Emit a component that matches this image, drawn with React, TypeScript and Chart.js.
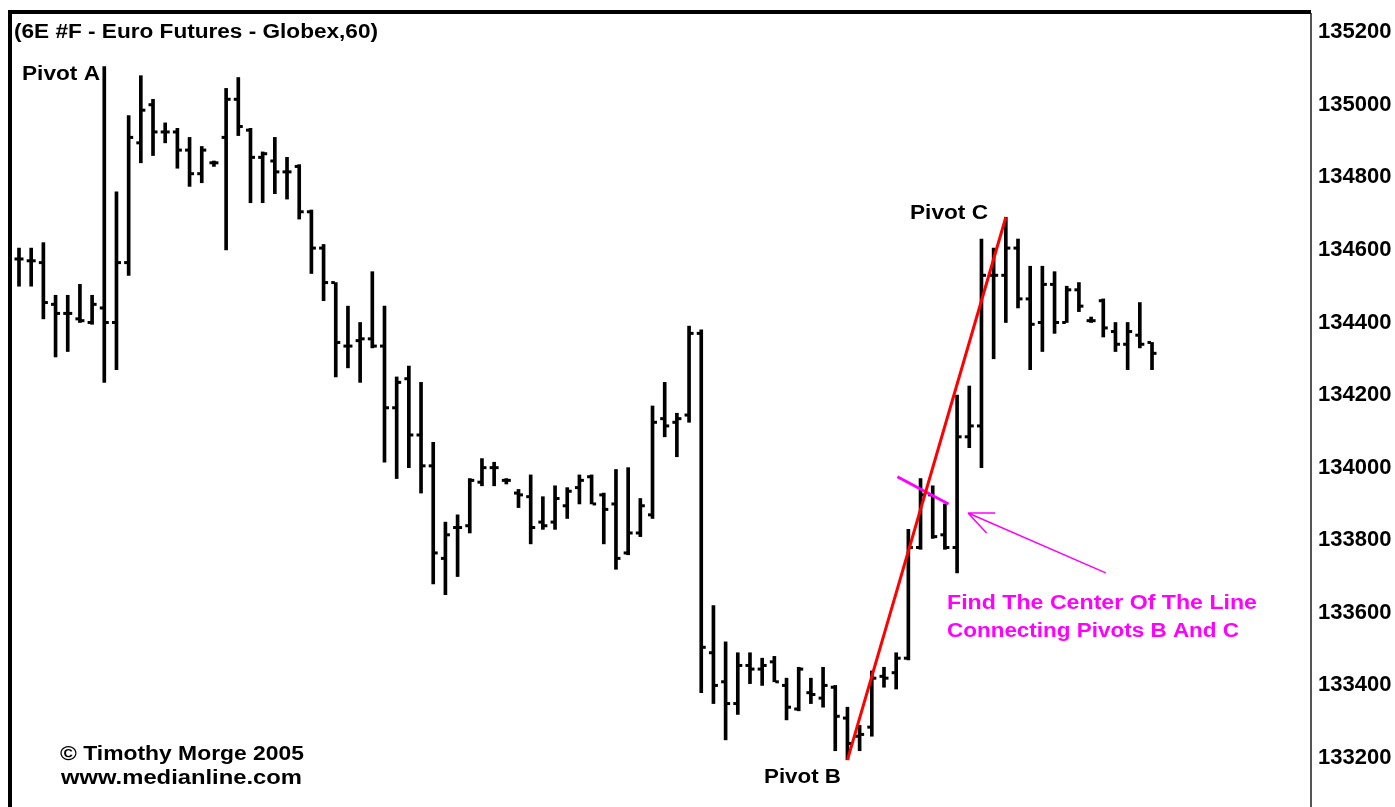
import React, { useEffect, useRef } from "react";
import { Chart, registerables } from "chart.js";

Chart.register(...registerables);

// ---- Data (hourly bars, 6E Euro futures) ----
const OPEN = [
  134575, 134570, 134565, 134450, 134425, 134410, 134400, 134440, 134400, 134565,
  134895, 135000, 134925, 134925, 134875, 134810, 134840, 134910, 135015, 134930,
  134855, 134845, 134815, 134830, 134705, 134605, 134510, 134335, 134350, 134355,
  134335, 134165, 134245, 134090, 134005, 133750, 133835, 133840, 133960, 134000,
  133965, 133930, 133920, 133850, 133850, 133895, 133945, 133975, 133925, 133900,
  133765, 133820, 133870, 134135, 134125, 134145, 134370, 133490, 133410, 133350,
  133455, 133445, 133465, 133400, 133335, 133380, 133365, 133395, 133310, 133260,
  133285, 133425, 133435, 133475, 133780, 133925, 133815, 133780, 134085, 134115,
  134530, 134530, 134605, 134465, 134400, 134505, 134400, 134490, 134405, 134460,
  134375, 134340, 134365, 134345,
];
const HIGH = [
  134605, 134605, 134620, 134475, 134475, 134505, 134475, 135105, 134760, 134970,
  135080, 135015, 134950, 134935, 134910, 134885, 134845, 135045, 135075, 134935,
  134870, 134910, 134855, 134835, 134710, 134615, 134510, 134445, 134400, 134540,
  134445, 134250, 134280, 134235, 134070, 133850, 133870, 133970, 134025, 134015,
  133970, 133940, 133980, 133920, 133950, 133945, 133980, 133980, 133930, 133995,
  134000, 133915, 134170, 134235, 134150, 134390, 134380, 133620, 133520, 133490,
  133490, 133475, 133480, 133420, 133450, 133420, 133450, 133400, 133340, 133290,
  133440, 133450, 133490, 133830, 133970, 133950, 133900, 134200, 134225, 134630,
  134605, 134690, 134630, 134555, 134555, 134540, 134500, 134510, 134415, 134465,
  134400, 134400, 134455, 134345,
];
const LOW = [
  134500, 134500, 134410, 134305, 134320, 134400, 134395, 134235, 134270, 134530,
  134840, 134860, 134895, 134825, 134775, 134785, 134830, 134600, 134915, 134730,
  134730, 134755, 134740, 134685, 134535, 134460, 134250, 134275, 134235, 134330,
  134015, 133970, 134000, 133930, 133680, 133650, 133700, 133820, 133950, 133950,
  133955, 133890, 133790, 133830, 133830, 133860, 133900, 133900, 133790, 133720,
  133760, 133810, 133860, 134085, 134030, 134125, 133380, 133350, 133250, 133320,
  133405, 133400, 133410, 133305, 133330, 133350, 133340, 133220, 133195, 133220,
  133260, 133395, 133390, 133470, 133775, 133805, 133775, 133710, 134055, 134000,
  134300, 134400, 134440, 134270, 134320, 134370, 134400, 134430, 134400, 134360,
  134320, 134270, 134330, 134270,
];
const CLOSE = [
  134575, 134570, 134455, 134425, 134425, 134405, 134450, 134400, 134565, 134910,
  134985, 134925, 134925, 134875, 134810, 134875, 134840, 135015, 134940, 134855,
  134865, 134815, 134815, 134705, 134605, 134510, 134345, 134335, 134355, 134335,
  134165, 134235, 134090, 134005, 133765, 133815, 133835, 133965, 134000, 134000,
  133965, 133925, 133835, 133840, 133915, 133935, 133965, 133900, 133885, 133750,
  133820, 133895, 134125, 134115, 134135, 134370, 133505, 133400, 133350, 133455,
  133445, 133455, 133410, 133340, 133445, 133375, 133400, 133315, 133240, 133265,
  133420, 133420, 133475, 133780, 133925, 133810, 133780, 134085, 134115, 134530,
  134530, 134605, 134465, 134395, 134505, 134400, 134490, 134445, 134405, 134385,
  134340, 134375, 134340, 134315,
];

const Y_TICKS = [133200, 133400, 133600, 133800, 134000, 134200, 134400, 134600, 134800, 135000, 135200];

// Pivot B (bar low) and Pivot C (bar high)
const PIVOT_B_INDEX = 68;
const PIVOT_C_INDEX = 81;

// Magenta marker across the middle of line B-C
const CENTER_MARK_X = [72.1, 76.3];
const CENTER_MARK_Y = [133975, 133900];

// Arrow pointing at the centre (tail -> tip)
const ARROW_X = [89.2, 77.9];
const ARROW_Y = [133710, 133875];

const FONT = '"Liberation Sans", Arial, Helvetica, sans-serif';

function drawFit(
  ctx: CanvasRenderingContext2D,
  text: string,
  x: number,
  y: number,
  w: number,
  size: number,
  color: string
) {
  ctx.save();
  ctx.font = `bold ${size}px ${FONT}`;
  ctx.fillStyle = color;
  ctx.textBaseline = "middle";
  ctx.textAlign = "left";
  const m = ctx.measureText(text).width;
  ctx.translate(x, y);
  ctx.scale(w / m, 1);
  ctx.fillText(text, 0, 0);
  ctx.restore();
}

const ohlcTicks = {
  id: "ohlcTicks",
  beforeDatasetsDraw(chart: any) {
    const { ctx, scales, chartArea } = chart;
    const xs = scales.x;
    const ys = scales.y;
    ctx.save();
    ctx.beginPath();
    ctx.rect(chartArea.left, chartArea.top, chartArea.right - chartArea.left, chartArea.bottom - chartArea.top);
    ctx.clip();
    ctx.fillStyle = "#000";
    for (let i = 0; i < OPEN.length; i++) {
      const cx = xs.getPixelForValue(i);
      const yo = ys.getPixelForValue(OPEN[i]);
      const yc = ys.getPixelForValue(CLOSE[i]);
      ctx.fillRect(cx - 4.5, yo - 1.5, 3.5, 3);
      ctx.fillRect(cx + 1, yc - 1.5, 3.5, 3);
    }
    ctx.restore();
  },
};

const decorations = {
  id: "decorations",
  afterDraw(chart: any) {
    const { ctx, scales, chartArea } = chart;
    const xs = scales.x;
    const ys = scales.y;
    ctx.save();
    // frame
    ctx.fillStyle = "#000";
    ctx.fillRect(8, 10, chartArea.right - 8, 4);
    ctx.fillRect(8, 10, 4, 807 - 10);

    // arrow
    const tx = xs.getPixelForValue(ARROW_X[1]);
    const ty = ys.getPixelForValue(ARROW_Y[1]);
    const sx = xs.getPixelForValue(ARROW_X[0]);
    const sy = ys.getPixelForValue(ARROW_Y[0]);
    ctx.strokeStyle = "#ff00ff";
    ctx.lineWidth = 1.5;
    ctx.beginPath();
    ctx.moveTo(sx, sy);
    ctx.lineTo(tx, ty);
    ctx.moveTo(tx, ty);
    ctx.lineTo(tx + 27, ty);
    ctx.moveTo(tx, ty);
    ctx.lineTo(tx + 18.5, ty + 20);
    ctx.stroke();

    // texts
    drawFit(ctx, "(6E #F - Euro Futures - Globex,60)", 14, 32, 364, 20, "#000");
    drawFit(ctx, "Pivot A", 22, 74, 78, 20, "#000");
    drawFit(ctx, "Pivot C", 910, 213, 78, 20, "#000");
    drawFit(ctx, "Pivot B", 764, 777, 77, 20, "#000");
    drawFit(ctx, "\u00A9 Timothy Morge 2005", 60, 754, 244, 20, "#000");
    drawFit(ctx, "www.medianline.com", 61, 778, 241, 20, "#000");
    drawFit(ctx, "Find The Center Of The Line", 947, 603, 310, 20, "#ff00ff");
    drawFit(ctx, "Connecting Pivots B And C", 947, 631, 292, 20, "#ff00ff");
    ctx.restore();
  },
};

export default function App() {
  const ref = useRef<HTMLCanvasElement | null>(null);

  useEffect(() => {
    if (!ref.current) return;
    const bars = HIGH.map((h, i) => ({ x: i, y: [LOW[i], h] }));
    const chart = new Chart(ref.current, {
      type: "bar",
      data: {
        datasets: [
          {
            type: "line",
            data: [
              { x: PIVOT_B_INDEX, y: LOW[PIVOT_B_INDEX] },
              { x: PIVOT_C_INDEX, y: HIGH[PIVOT_C_INDEX] },
            ],
            borderColor: "#ff0000",
            borderWidth: 3,
            pointRadius: 0,
            fill: false,
          } as any,
          {
            type: "line",
            data: CENTER_MARK_X.map((x, i) => ({ x, y: CENTER_MARK_Y[i] })),
            borderColor: "#ff00ff",
            borderWidth: 3,
            pointRadius: 0,
            fill: false,
          } as any,
          {
            type: "bar",
            data: bars as any,
            backgroundColor: "#000",
            borderWidth: 0,
            barThickness: 3,
            grouped: false,
          } as any,
        ],
      },
      options: {
        responsive: false,
        animation: false,
        events: [],
        layout: { padding: { left: 12, top: 14, right: 0, bottom: 0 } },
        plugins: {
          legend: { display: false },
          tooltip: { enabled: false },
          title: { display: false },
        },
        scales: {
          x: {
            type: "linear",
            display: false,
            offset: false,
            min: -0.575,
            max: 106.05,
          },
          y: {
            position: "right",
            min: 133065,
            max: 135250,
            afterFit: (scale: any) => {
              scale.width = 84;
              scale.paddingTop = 0;
              scale.paddingBottom = 0;
            },
            afterBuildTicks: (scale: any) => {
              scale.ticks = Y_TICKS.map((v) => ({ value: v }));
            },
            grid: { display: false, drawTicks: false },
            border: { display: true, color: "#555", width: 2 },
            ticks: {
              padding: 7,
              color: "#000",
              font: { family: FONT, size: 22, weight: "bold" },
              callback: (v: any) => String(v),
            },
          },
        },
      },
      plugins: [ohlcTicks, decorations],
    });
    return () => chart.destroy();
  }, []);

  return (
    <div style={{ position: "fixed", left: 0, top: 0, width: 1395, height: 807, background: "#fff" }}>
      <canvas ref={ref} width={1395} height={807} style={{ display: "block" }} />
    </div>
  );
}
